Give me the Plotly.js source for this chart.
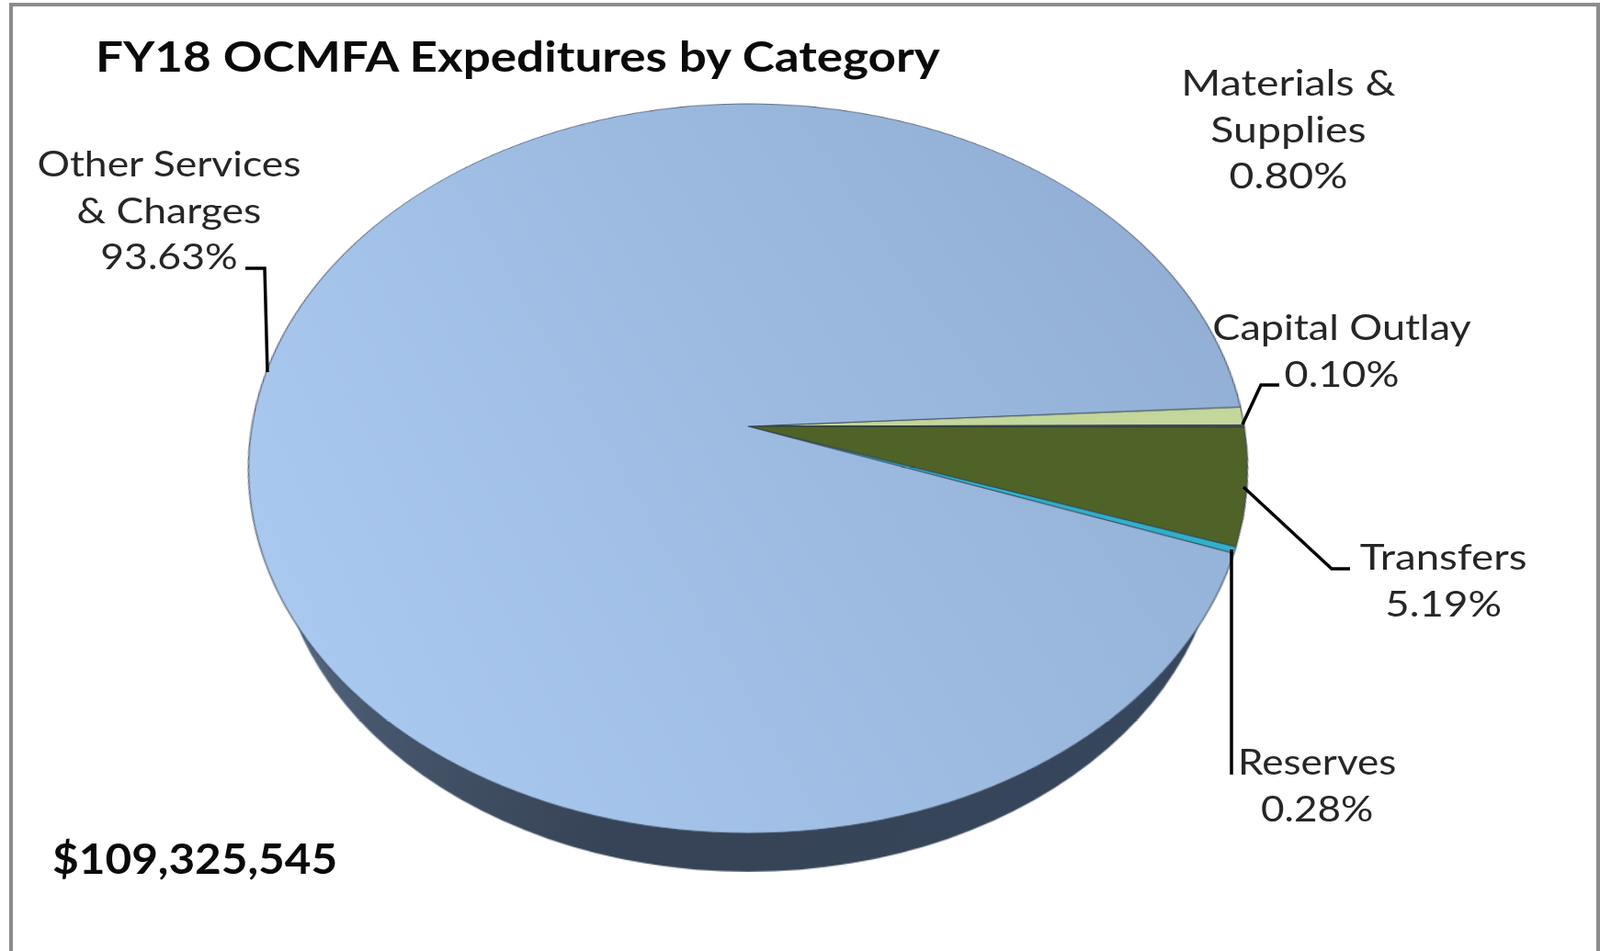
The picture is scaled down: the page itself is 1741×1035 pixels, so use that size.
<!DOCTYPE html>
<html><head><meta charset="utf-8">
<script src="https://cdn.plot.ly/plotly-3.0.1.min.js"></script>
<style>
html,body{margin:0;padding:0;background:#fff;overflow:hidden}
#frame{position:absolute;left:10px;top:3px;width:1723px;height:1040px;border:4px solid #8c8c8c;box-sizing:content-box;pointer-events:none}
#chart{position:absolute;left:0;top:0;width:1741px;height:1035px}
</style></head><body>
<div id="chart"></div><div id="frame"></div>
<script>
const W = 1741, H = 1035;
const categories = ['Materials & Supplies','Capital Outlay','Transfers','Reserves','Other Services & Charges'];
const shares = [0.80,0.10,5.19,0.28,93.63];
const sliceColors = ['#c3d69b','#4d4d4d','#4f6228','#31b0cc','#9dbce2'];
const chartTitle = 'FY18 OCMFA Expeditures by Category';
const totalLabel = '$109,325,545';
const labelTexts = ['Other Services<br>& Charges<br>93.63%','Materials &<br>Supplies<br>0.80%','Capital Outlay<br>0.10%','Transfers<br>5.19%','Reserves<br>0.28%'];
const labelX = [184,1402,1460,1570,1433];
const labelY = [227,139,381,630,853];
const labelStretch = [1.14,1.19,1.153,1.17,1.13];
const leaders = [
  [[267,292],[288,292],[291,405]],
  [[1392,419],[1372,419],[1352,462]],
  [[1469,619],[1449,619],[1353,530]],
  [[1340,598],[1340,843]]
];
const font = 'Lato, "Open Sans", sans-serif';
const cx = 814, cy = 464, r = 400, rimR = 372, rimCy = 525;
const px = x => x / W, py = y => 1 - y / H;

const annotations = labelTexts.map((t,i) => ({
  xref:'paper', yref:'paper', x:px(labelX[i]), y:py(labelY[i]), xanchor:'center', yanchor:'middle',
  text:t, showarrow:false, align:'center', font:{family:font, size:39, color:'#262626'}
}));
annotations.push({xref:'paper', yref:'paper', x:px(55), y:py(934), xanchor:'left', yanchor:'middle',
  text:'<b>'+totalLabel+'</b>', showarrow:false, font:{family:font, size:45, color:'#0a0a0a'}});
const shapes = leaders.map(line => ({
  type:'path', xref:'paper', yref:'paper', layer:'above',
  path: line.map((p,i) => (i ? 'L' : 'M') + px(p[0]) + ',' + py(p[1])).join(' '),
  line:{color:'#000', width:3.5}, fillcolor:'rgba(0,0,0,0)'
}));

const traces = [
  {type:'pie', name:'side', labels:['side'], values:[1], sort:false, textinfo:'none', hoverinfo:'skip', showlegend:false,
   marker:{colors:['#3d4a5e'], line:{width:0}},
   domain:{x:[px(cx-rimR),px(cx+rimR)], y:[py(rimCy+rimR),py(rimCy-rimR)]}},
  {type:'pie', name:'expenditures', labels:categories, values:shares, sort:false, direction:'clockwise', rotation:86.9,
   textinfo:'none', showlegend:false, marker:{colors:sliceColors, line:{color:'#2e3a4a', width:0.8}},
   domain:{x:[px(cx-r),px(cx+r)], y:[py(cy+r),py(cy-r)]}}
];
const layout = {
  width:W, height:H, margin:{l:0,r:0,t:0,b:0}, paper_bgcolor:'#fff', showlegend:false,
  title:{text:'<b>'+chartTitle+'</b>', x:px(104), xref:'paper', xanchor:'left', y:py(62), yref:'paper', yanchor:'middle',
         font:{family:font, size:46, color:'#0a0a0a'}},
  annotations, shapes
};
function gradient(defs,id,x1,y1,x2,y2,stops){
  const ns='http://www.w3.org/2000/svg', g=document.createElementNS(ns,'linearGradient');
  g.id=id; [['x1',x1],['y1',y1],['x2',x2],['y2',y2]].forEach(p=>g.setAttribute(p[0],p[1]));
  stops.forEach(s=>{const e=document.createElementNS(ns,'stop');e.setAttribute('offset',s[0]);e.setAttribute('stop-color',s[1]);g.appendChild(e);});
  defs.appendChild(g);
}
function stretch(el,k,anchor){
  const b = el.getBBox(), ox = anchor==='left' ? b.x : b.x + b.width/2;
  const old = el.getAttribute('transform') || '';
  el.setAttribute('transform', `translate(${ox},0) scale(${k},1) translate(${-ox},0) ${old}`);
}
Plotly.newPlot('chart',traces,layout,{displayModeBar:false,staticPlot:true}).then(gd=>{
  const svgs = gd.querySelectorAll('svg.main-svg'), svg = svgs[0], top = svgs[1];
  const defs = svg.querySelector('defs') || svg.insertBefore(document.createElementNS('http://www.w3.org/2000/svg','defs'),svg.firstChild);
  gradient(defs,'gBlue',0,0.75,1,0.3,[[0,'#abcaf1'],[0.55,'#9cbae0'],[1,'#92aed4']]);
  gradient(defs,'gRim',0,0,1,0.15,[[0,'#66809f'],[0.25,'#46566c'],[0.5,'#374356'],[1,'#36465c']]);
  const tr = svg.querySelectorAll('.pielayer .trace');
  tr[0].querySelectorAll('path.surface').forEach(p=>{p.style.fill='url(#gRim)';});
  const sl = tr[1].querySelectorAll('path.surface');
  sl[sl.length-1].style.fill='url(#gBlue)';
  // Only the pie is tilted in perspective; leaders stay flat in the top layer.
  const above = svg.querySelector('.layer-above');
  if (above) top.appendChild(above);
  svg.style.transformOrigin = cx+'px '+cy+'px';
  svg.style.transform = 'perspective(3209px) rotateX(43.5deg) scale(1.35)';
  // The reference's lettering is horizontally stretched.
  const seen = new Set();
  top.querySelectorAll('.annotation-text-g text, .annotation text').forEach(t=>{
    if(seen.has(t)) return; seen.add(t);
    const isTotal = t.textContent.indexOf('$')===0;
    const idx = labelTexts.findIndex(s => s.replace(/<br>/g,'') === t.textContent.replace(/\s+/g,' ').trim() || s.split('<br>')[0] === (t.querySelector('tspan') ? t.querySelector('tspan').textContent : ''));
    stretch(t, isTotal ? 1.10 : (idx>=0 ? labelStretch[idx] : 1.16), isTotal ? 'left' : 'center');
  });
  const ttl = gd.querySelector('.gtitle');
  if (ttl) stretch(ttl, 1.153, 'left');
});
</script>
</body></html>
